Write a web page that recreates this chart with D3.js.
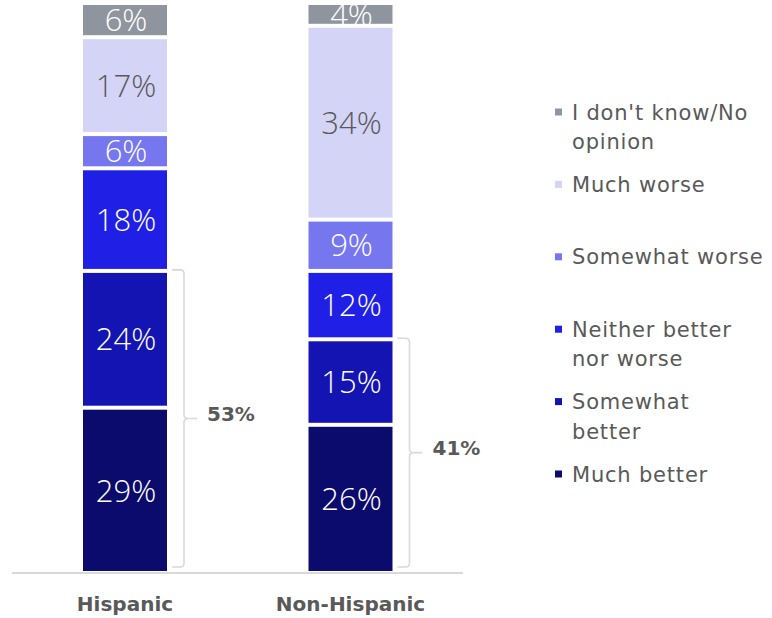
<!DOCTYPE html>
<html>
<head>
<meta charset="utf-8">
<script src="https://cdn.jsdelivr.net/npm/d3@7"></script>
<style>
  html, body { margin: 0; padding: 0; background: #fff; }
  svg { display: block; }
</style>
</head>
<body>
<svg id="chart" width="772" height="618"></svg>
<script>
// ---- data ----
const categories = ["Hispanic", "Non-Hispanic"];
const seriesNames = ["Much better", "Somewhat better", "Neither better nor worse", "Somewhat worse", "Much worse", "I don't know/No opinion"];
const hispanicValues = [29, 24, 18, 6, 17, 6];
const nonHispanicValues = [26, 15, 12, 9, 34, 4];
const betterTotals = [53, 41];
const legendLines = [
  ["I don't know/No", "opinion"],
  ["Much worse"],
  ["Somewhat worse"],
  ["Neither better", "nor worse"],
  ["Somewhat", "better"],
  ["Much better"]
];
const legendKeys = ["I don't know/No opinion", "Much worse", "Somewhat worse", "Neither better nor worse", "Somewhat better", "Much better"];

const colors = {
  "Much better": "#0B0B6E",
  "Somewhat better": "#1414B2",
  "Neither better nor worse": "#1F1FE6",
  "Somewhat worse": "#7676EE",
  "Much worse": "#D4D4F7",
  "I don't know/No opinion": "#8F959E"
};
const labelColors = {
  "Much worse": "#595959"
};

const valueFont = "'Century Gothic', 'Open Sans', sans-serif";
const textFont = "'Century Gothic', 'DejaVu Sans', sans-serif";
const grey = "#595959";

const svg = d3.select("#chart");

const x = d3.scalePoint().domain(categories).range([125, 350.5]);
const barW = 84;
const y = d3.scaleLinear().domain([0, 100]).range([573, 3]);
const gap = 2;

const valuesByCat = [hispanicValues, nonHispanicValues];

// build stacked rows
const rows = [];
categories.forEach((cat, ci) => {
  let cum = 0;
  valuesByCat[ci].forEach((v, si) => {
    rows.push({cat, series: seriesNames[si], v, y0: cum, y1: cum + v});
    cum += v;
  });
});

// axis baseline
svg.append("line")
  .attr("x1", 12).attr("x2", 463)
  .attr("y1", y(0)).attr("y2", y(0))
  .attr("stroke", "#D9D9D9").attr("stroke-width", 2);

// bars
svg.append("g").selectAll("rect").data(rows).join("rect")
  .attr("x", d => x(d.cat) - barW / 2)
  .attr("width", barW)
  .attr("y", d => y(d.y1) + gap)
  .attr("height", d => Math.max(0, y(d.y0) - y(d.y1) - 2 * gap))
  .attr("fill", d => colors[d.series]);

// value labels
svg.append("g").selectAll("text").data(rows).join("text")
  .attr("x", d => x(d.cat) + 1)
  .attr("y", d => (y(d.y0) + y(d.y1)) / 2)
  .attr("dy", "0.36em")
  .attr("text-anchor", "middle")
  .attr("font-family", valueFont)
  .attr("font-weight", 300)
  .attr("font-size", 31)
  .attr("fill", d => labelColors[d.series] || "#ffffff")
  .text(d => d.v + "%");

// braces
categories.forEach((cat, ci) => {
  const right = x(cat) + barW / 2;
  const xs = right + 5, xv = right + 17, xt = right + 30;
  const top = y(betterTotals[ci]) - 1, bot = y(0) - 6;
  const mid = (top + bot) / 2;
  const r = 4;
  const p = d3.path();
  p.moveTo(xs, top);
  p.lineTo(xv - r, top);
  p.quadraticCurveTo(xv, top, xv, top + r);
  p.lineTo(xv, mid - r);
  p.quadraticCurveTo(xv, mid, xv + r, mid);
  p.lineTo(xt, mid);
  p.moveTo(xv + r, mid);
  p.quadraticCurveTo(xv, mid, xv, mid + r);
  p.lineTo(xv, bot - r);
  p.quadraticCurveTo(xv, bot, xv - r, bot);
  p.lineTo(xs, bot);
  svg.append("path").attr("d", p.toString())
    .attr("fill", "none").attr("stroke", "#D9D9D9").attr("stroke-width", 1.6);
  svg.append("text")
    .attr("x", xt + 10).attr("y", mid - 5)
    .attr("dy", "0.36em")
    .attr("font-family", textFont)
    .attr("font-weight", 700)
    .attr("font-size", 20)
    .attr("fill", grey)
    .text(betterTotals[ci] + "%");
});

// category labels
svg.append("g").selectAll("text").data(categories).join("text")
  .attr("x", d => x(d))
  .attr("y", 611)
  .attr("text-anchor", "middle")
  .attr("font-family", textFont)
  .attr("font-weight", 700)
  .attr("font-size", 20)
  .attr("fill", grey)
  .text(d => d);

// legend
const lg = svg.append("g");
legendKeys.forEach((k, i) => {
  const cy = 112 + i * 72.4;
  lg.append("rect")
    .attr("x", 555).attr("y", cy - 3.5)
    .attr("width", 7).attr("height", 7)
    .attr("fill", colors[k]);
  const t = lg.append("text")
    .attr("font-family", textFont)
    .attr("font-size", 21)
    .attr("letter-spacing", 0.8)
    .attr("fill", grey);
  legendLines[i].forEach((line, li) => {
    t.append("tspan").attr("x", 572).attr("y", cy + li * 29.5).attr("dy", "0.36em").text(line);
  });
});
</script>
</body>
</html>
